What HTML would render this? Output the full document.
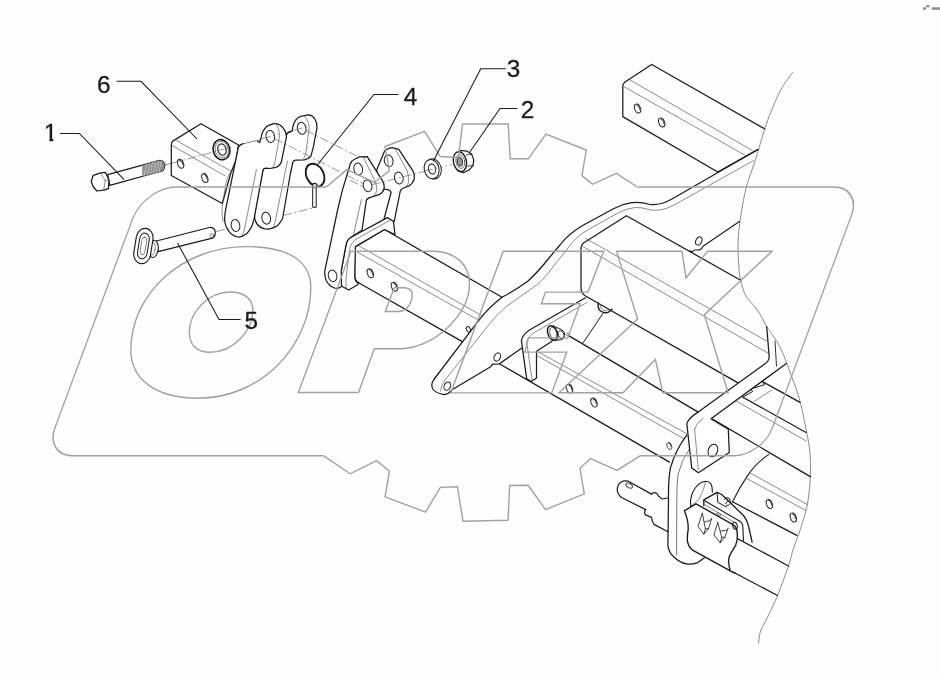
<!DOCTYPE html>
<html><head><meta charset="utf-8">
<style>
html,body{margin:0;padding:0;background:#fefefe;}
body{width:940px;height:674px;overflow:hidden;font-family:"Liberation Sans",sans-serif;}
svg{display:block;will-change:transform}
.k{fill:none;stroke:#1b1b1b;stroke-width:1.25;stroke-linecap:round;stroke-linejoin:round}
.kf{fill:#fefefe;stroke:#1b1b1b;stroke-width:1.25;stroke-linecap:round;stroke-linejoin:round}
.t{fill:none;stroke:#444;stroke-width:.62;stroke-linecap:round;stroke-linejoin:round}
.tf{fill:#fefefe;stroke:#3a3a3a;stroke-width:.7}
.d{fill:none;stroke:#555;stroke-width:.6;stroke-dasharray:9 2.5 2 2.5}
.l{fill:none;stroke:#1b1b1b;stroke-width:1.05}
.w{fill:none;stroke:#a0a2a0;stroke-width:1.4;stroke-linejoin:miter}
.n{font-family:"Liberation Sans",sans-serif;font-size:24.3px;fill:#1b1b1b;stroke:#1b1b1b;stroke-width:.3;text-anchor:middle}
</style></head><body>
<svg width="940" height="674" viewBox="0 0 940 674">


<defs><g id="hole"><ellipse rx="2.9" ry="4.65" style="fill:#fefefe;stroke:#222;stroke-width:.9"/><path d="M0.2,-3.8 A2.1,3.8 0 0 1 1.7,2.3" style="stroke:#4a4a4a;stroke-width:1.4;fill:none"/></g><pattern id="dz" width="8" height="8" patternUnits="userSpaceOnUse"><g fill="#f5faf6"><rect x="3" y="0" width="1" height="1"/><rect x="6" y="1" width="1" height="1"/><rect x="1" y="2" width="1" height="1"/><rect x="4" y="3" width="1" height="1"/><rect x="7" y="4" width="1" height="1"/><rect x="2" y="5" width="1" height="1"/><rect x="5" y="6" width="1" height="1"/><rect x="0" y="7" width="1" height="1"/></g></pattern></defs>
<rect width="940" height="674" fill="url(#dz)"/>
<!-- ============ DRAWING ============ -->
<g id="drawing">
<!-- bolt 1 -->
<g id="bolt">
 <path class="d" d="M165,165 L302,128.3"/>
 <path class="kf" d="M107.7,174.6 L159.8,160.4 Q165.2,161.5 164.6,166 Q164.3,169.8 161.9,171 L109.8,185.4 Z"/>
 <path d="M142.2,165.3 L159.8,160.5 Q165,161.6 164.5,166 Q164.2,169.8 161.9,170.9 L142.2,176.3 Z" fill="#8e8e8e" stroke="none"/>
 <path class="t" d="M144,176 L146.5,164.3 M147,175.2 L149.5,163.5 M150,174.4 L152.5,162.7 M153,173.6 L155.5,161.9 M156,172.8 L158.5,161.1 M159,172 L161.3,161" style="stroke:#ddd"/>
 <path class="kf" d="M91.2,181.2 L93.3,175.3 L100.7,172.9 L105.5,172.4 L108.9,180.1 L108.5,188.6 L103.9,190.2 L97,191 L93.3,187 Z"/>
 <path class="t" d="M100.7,173.4 L105.3,180.6 L103.6,189.9 M105.3,180.6 L108.7,180"/>
</g>

<!-- block 6 -->
<g id="block6">
 <path class="kf" d="M171.3,145 Q171.3,142 173.5,140.6 L201,123.8 L238.5,145 L236,160 L231,172.5 L222.3,203.5 L171.3,175.5 Z"/>
 <path class="t" d="M171.5,145.2 L225,175.8 M175.5,140 L231.7,171.5"/>
 <use href="#hole" transform="translate(180.6,163.8) rotate(-22)"/>
 <use href="#hole" transform="translate(204.8,178) rotate(-22)"/>
 <g transform="rotate(-14 221.5 149.7)">
  <ellipse class="kf" cx="221.5" cy="149.7" rx="8.3" ry="10.2" style="stroke-width:1.6"/>
  <ellipse class="t" cx="221.8" cy="149.7" rx="6.6" ry="8.4"/>
  <ellipse class="k" cx="222" cy="149.7" rx="4.2" ry="5.8" style="stroke-width:1.1"/>
 </g>
 <path class="d" d="M172,163.2 L232,147"/>
</g>

<!-- link B (rear) -->
<g id="linkB">
 <path class="kf" d="M288,133 L292.4,131 Q292.6,124.5 295.8,119.8 Q298,117.2 301.5,116.2 L308.7,114.9 Q313.5,115.5 315.4,120.1 Q317.3,124 316.9,128.3 L313.2,147.7 L311,155.9 Q309,158.8 304.3,159.8 L296.8,160.2 Q293.8,159.8 292.9,162 L290.3,174 L282.6,218.5 Q278.8,225.6 274.5,227.4 Q270,229.6 265.5,229 Q260,227.8 257.3,224.5 Q254.5,221 254.4,215.5 L262.6,171 L281,140 Z"/>
 <path class="t" d="M303.8,115.6 Q308.2,119 309.2,127.5 L305.9,153.3 Q305.2,156 303.6,158.6 M287.5,161 L274.9,223 Q274,226 272.5,228.2"/>
 <ellipse class="t" cx="301.7" cy="128.3" rx="4.3" ry="6" transform="rotate(-12 301.7 128.3)" style="stroke:#222;stroke-width:1"/>
 <ellipse class="t" cx="266.2" cy="218.2" rx="4.3" ry="6" transform="rotate(-12 266.2 218.2)" style="stroke:#222;stroke-width:1"/>
</g>
<!-- link A (front) -->
<g id="linkA">
 <path class="t" d="M232.7,170 Q227.5,175 226.2,182.3 L222.1,206.8 Q221.6,215 223,221.5"/>
 <path d="M238.4,147.2 Q240,144.3 243.3,143.6 L257.3,140.2 L259.6,142.4 Q261,139 261.8,134.3 Q264.2,127.6 268.5,125.4 L273,123.8 Q279.5,123 283.4,128.3 Q286.6,132 286.4,137.2 L281.2,162.6 Q279.5,166.4 276,167.3 L270,168.5 L265.5,168.2 Q263.4,168.3 263,170.2 L254.1,218.6 L252.3,225 Q249.5,231.5 245.8,234.3 Q242,237.3 237.6,237 Q232.5,236 228.7,231.2 Q225,226 224.6,219.5 Q224.6,214 226.2,206.8 Z" fill="#fefefe" stroke="none"/>
 <path class="k" d="M243.3,143.6 Q240,144.3 238.4,147.2 L226.2,206.8 Q224.6,214 224.6,219.5 Q225,226 228.7,231.2 Q232.5,236 237.6,237 Q242,237.3 245.8,234.3 Q249.5,231.5 252.3,225 L254.1,218.6 L263,170.2 Q263.4,168.3 265.5,168.2 L270,168.5 L276,167.3 Q279.5,166.4 281.2,162.6 L286.4,137.2 Q286.6,132 283.4,128.3 Q279.5,123 273,123.8 L268.5,125.4 Q264.2,127.6 261.8,134.3 Q261,139 259.6,142.4 L257.8,141.5"/>
 <path class="t" d="M243.3,143.6 L246,143.6 L247.5,142.3 L250,142.6 L252,141.2 L254.5,141.4 L257.8,140.2 L257.8,141.5"/>
 <path class="t" d="M287.3,133.2 Q287.6,131.2 289.8,131.4 Q291.8,131.8 292.3,130.2" style="stroke:#222;stroke-width:.8"/>
 <path class="t" d="M276,123.8 Q279.5,128 279.7,135.7 L275.2,161 Q274.3,165 272.5,168 M256.4,169.5 L244.3,230 Q243.6,233 242,236"/>
 <ellipse class="t" cx="270.3" cy="136.5" rx="4.3" ry="6" transform="rotate(-12 270.3 136.5)" style="stroke:#222;stroke-width:1"/>
 <ellipse class="t" cx="235.5" cy="225.5" rx="4.3" ry="6" transform="rotate(-12 235.5 225.5)" style="stroke:#222;stroke-width:1"/>
 <path class="d" d="M262,138.8 L279,134.2 M294,130.3 L309,126.3"/>
</g>

<!-- ring pin 4 -->
<g id="pin4">
 <path class="d" d="M283.4,215.5 L314.5,207.5"/>
 <path class="k" d="M312.7,187 V207.3 H316.2 V187" style="stroke-width:1"/>
 <ellipse class="k" cx="315.1" cy="175.1" rx="8.6" ry="12" transform="rotate(-27 315.1 175.1)" style="stroke-width:1.9"/>
 <circle class="kf" cx="314.7" cy="185.6" r="2.2" style="stroke-width:1.1"/>
</g>
<!-- pin 5 -->
<g id="pin5">
 <path class="d" d="M216,231.6 L231,227.8"/>
 <path class="kf" d="M156.3,241 L209.4,227.5 Q214.8,227.3 215.3,232.2 Q215.3,236.8 212.3,238.2 L158.2,251.7 Z"/>
 <ellipse class="t" cx="211.7" cy="235.6" rx="1.6" ry="2.2" transform="rotate(-15 211.7 235.6)"/>
 <g transform="rotate(8 153.4 249.5)">
  <ellipse class="kf" cx="153.4" cy="249" rx="4.7" ry="8.6" style="stroke-width:1.1"/>
  <ellipse class="t" cx="152.6" cy="249.2" rx="2.6" ry="6"/>
 </g>
 <g transform="rotate(9 143.4 246)">
  <rect class="kf" x="135" y="228.2" width="16.8" height="35.6" rx="8.4" ry="10" style="stroke-width:1.15"/>
  <rect class="k" x="138.6" y="233" width="9.6" height="26" rx="4.8" ry="6" style="stroke-width:1"/>
  <rect class="t" x="141" y="237" width="4.8" height="18" rx="2.4" ry="3.5"/>
 </g>
</g>

<g id="upperTube">
 <path class="k" d="M758.2,149.4 L717.7,172 L622.8,116.6 L622.8,86 Q622.8,83.5 625,82 L651.7,64.5 L765,129"/>
 <path class="t" d="M629,79.4 L752.2,150.4 M624,86.7 L745.1,155.2"/>
 <use href="#hole" transform="translate(637.6,108.5) rotate(-22)"/>
 <use href="#hole" transform="translate(661.7,122.4) rotate(-22)"/>
</g>
<!-- break curve -->
<path class="t" d="M792.5,72.5 C790.5,75.4 784.2,83.5 780.7,89.9 C777.2,96.4 773.9,104.6 771.2,111.2 C768.5,117.8 767.1,121.6 764.5,129.5 C761.9,137.4 758.8,149.1 755.8,158.7 C752.8,168.3 748.8,177.8 746.3,187.2 C743.8,196.6 742.4,206.4 741.0,215.0 C739.6,223.6 738.6,231.2 738.2,239.0 C737.8,246.8 738.1,255.2 738.5,262.0 C738.9,268.8 739.4,274.3 740.6,280.0 C741.9,285.7 743.2,291.0 746.0,296.0 C748.8,301.0 753.9,304.9 757.4,310.0 C760.9,315.1 762.9,320.4 766.7,326.6 C770.5,332.8 776.1,339.1 780.2,347.4 C784.4,355.7 788.3,367.4 791.6,376.4 C794.9,385.4 797.6,392.4 800.0,401.3 C802.4,410.2 804.6,421.5 806.2,430.0 C807.9,438.5 809.2,445.0 809.9,452.5 C810.6,460.0 810.8,466.6 810.4,475.0 C810.0,483.4 809.2,494.3 807.6,503.2 C806.0,512.1 803.0,521.1 800.6,528.6 C798.2,536.1 795.5,542.1 793.5,548.3 C791.5,554.5 791.2,558.1 788.5,566.0 C785.8,573.9 781.0,586.9 777.5,595.5 C774.0,604.1 770.2,611.6 767.4,617.5 C764.6,623.4 762.1,626.8 760.6,631.0 C759.1,635.2 758.9,641.0 758.6,643.0"/>
<!-- middle big tube -->
<g id="midTube">
 <path class="k" d="M740.6,280.2 L626.4,215.7 L583.5,243 Q581,245 581,248 L581,288 Q581,293 585.5,296 L737.6,382.6"/>
 <path class="t" d="M585.8,238.5 L766.7,341.1 M582.3,246.2 L768.8,353.6"/>
 <path class="k" d="M690,250.8 L692.5,252 Q694,249 697,250 Q701,250.5 703,246.2 L739.4,221.5" style="stroke-width:1.1"/>
 <ellipse class="k" cx="698.8" cy="241" rx="2.9" ry="4.3" transform="rotate(25 698.8 241)" style="stroke-width:1"/>
</g>

<!-- square tube with flange -->
<g id="tube">
 <!-- tube body -->
 <path d="M384.5,229.5 L502,297.3 L478,321.4 L461.5,340.7 L359,283 Q354.7,280.5 354.7,276.5 L354.7,250 L355.4,246.6 Z" fill="#fefefe"/>
 <path class="k" d="M502,297.3 L384.5,229.5 L355.4,246.6 L354.7,250 L354.7,276.5 Q354.7,280.5 359,283 L462.3,341.6"/>
 <path class="t" d="M357.7,245.2 L481.7,315.6 M355.4,251 L478,319.8"/>
 <use href="#hole" transform="translate(370.3,273.3) rotate(-22)"/>
 <use href="#hole" transform="translate(394.4,286.7) rotate(-22)"/>
 <ellipse class="k" cx="468.4" cy="329.3" rx="1.9" ry="3" transform="rotate(-25 468.4 329.3)" style="stroke-width:1"/>
</g>
<!-- link D (rear, on tube) -->
<g id="linkD">
 <path class="kf" d="M376.8,169.4 L384.5,151.2 Q386.5,148.6 392.1,147.7 L398.8,149.3 L413.2,171.3 Q414.8,175 414.2,178.9 Q412.8,183.6 409.4,185.6 L403.5,188 Q400.8,189 400.2,191.5 L394.2,221.4 L384.1,218.6 L391.1,192.5 Q390,189 384,189.5 L378,186 Z"/>
 <path class="t" d="M395,148.6 L407.5,171.3 Q408.8,177 408.4,182.8 Q407.6,185.6 406,186.9"/>
 <ellipse class="t" cx="388.7" cy="160.8" rx="4.3" ry="6" transform="rotate(-14 388.7 160.8)" style="stroke:#222;stroke-width:1"/>
 <ellipse class="t" cx="398.8" cy="178" rx="4.3" ry="6" transform="rotate(-14 398.8 178)" style="stroke:#222;stroke-width:1"/>
</g>
<!-- flange plate -->
<g id="flange">
 <path class="kf" d="M387.4,217.6 L393.4,221.3 L395,234.5 L384.5,229.5 L355.4,246.6 L354.7,278 Q355.5,281.5 358.5,283.5 L357.7,284.7 L348.7,290 L341.3,286 L341.3,270.4 L345.7,246.6 Q346.5,240 350.2,237.7 Z"/>
 <path class="t" d="M389.3,220.6 L354.7,240 Q350.3,243.5 349.5,249.6 L345.9,280 L346.3,288.6"/>
</g>
<!-- link C (front, on tube) -->
<g id="linkC">
 <path class="kf" d="M350.3,164 Q351.5,160.5 355,159 L359.6,156.9 L367.2,156.7 L382.6,180.9 Q384.6,184.5 384.1,188.5 Q382.8,192.8 379.7,194.3 L371.1,197.1 Q367.3,198 366.3,200.6 L362,230.2 L350.2,237.7 Q346.5,240 345.7,246.6 L341.3,270.4 L341.5,286.5 Q338.5,289 334.5,288 Q329,286 326.2,280.5 Q324.3,276 324.9,270.4 L337.6,210 L342.3,190.4 Z"/>
 <path class="t" d="M363.4,157.3 L374.9,180.9 Q377.3,186 376.8,190.4 Q375.8,194 373.6,196.2 M361.4,199.5 L353.4,235"/>
 <ellipse class="t" cx="358.2" cy="169" rx="4.3" ry="6" transform="rotate(-14 358.2 169)" style="stroke:#222;stroke-width:1"/>
 <ellipse class="t" cx="367.6" cy="185.8" rx="4.3" ry="6" transform="rotate(-14 367.6 185.8)" style="stroke:#222;stroke-width:1"/>
 <ellipse class="t" cx="332.6" cy="275.8" rx="4.3" ry="5.8" transform="rotate(-14 332.6 275.8)" style="stroke:#222;stroke-width:1"/>
</g>
<!-- centre lines -->
<g id="cl">
 <path class="d" d="M274.5,138.6 L364,184"/>
 <path class="d" d="M306,130.5 L357,156"/>
 <path class="d" d="M349.8,180.2 L363,186.8"/>
 <path class="d" d="M372,184.6 L452,164.5"/>
</g>
<!-- washer 3 -->
<g id="washer">
 <g transform="rotate(-14 432.2 169)">
  <ellipse class="kf" cx="433.2" cy="169.2" rx="8" ry="10.2" style="stroke-width:1"/>
  <ellipse class="kf" cx="431.6" cy="169" rx="7.4" ry="9.7" style="stroke-width:1"/>
  <ellipse class="k" cx="432" cy="169" rx="3.6" ry="5" style="stroke-width:1"/>
  <path class="t" d="M430.2,172.8 A3,4.4 0 0 1 433.6,164.6"/>
 </g>
 <path class="d" d="M424,171.2 L437,168"/>
</g>
<!-- nut 2 -->
<g id="nut">
 <path class="kf" d="M459.7,150.4 L467.1,151.2 L471.6,154.1 L473.8,160.1 L473.1,165.3 L469.4,169.8 L463.4,172.8 L458,171 L454,160 Z" style="stroke-width:1.2"/>
 <path class="t" d="M466.2,155 L471.6,154.2 M467.2,166.3 L472.9,165.2 M463.4,172.6 L462.4,170.6" style="stroke:#222;stroke-width:.8"/>
 <ellipse class="kf" cx="459.9" cy="161.6" rx="6.5" ry="10" transform="rotate(-12 459.9 161.6)" style="stroke-width:1.4"/>
 <ellipse class="t" cx="460.3" cy="161.6" rx="4.3" ry="6.8" transform="rotate(-12 460.3 161.6)" style="stroke:#222"/>
 <ellipse cx="459.9" cy="161.7" rx="2.6" ry="4.5" transform="rotate(-12 459.9 161.7)" fill="#9a9a9a" stroke="#2a2a2a" stroke-width=".9"/>
</g>

<!-- big curved frame bracket -->
<g id="bracket">
 <path class="k" d="M757,150 L672,199 Q661,205.5 650,204.5 Q640,201.5 630.4,202.8 Q622,204 614,208.5 L583.5,225 Q568,234 560,245 L549,258 Q538,272 528,281 Q516,290 502,297.3 Q488,308 478,321.4 L433.5,380 Q430.5,385 432.8,389 Q436,393.5 444.4,394.6 Q448.5,394 452,389.8 L490.7,366.7 L492.5,364.2 L499.4,363.8 L521.5,348.3"/>
 <path class="t" d="M753.5,160.6 L674,205 Q662,211.5 651,210 Q641,207 635,207.5 Q626,208.5 617,213.5 L588,229.7 Q574,238 566.6,250 L556,263 Q547,275.5 539.6,282.8 Q524,294 506.8,306 Q494,317 485,329.5 L445,380 Q441,386 440.5,391"/>
 <ellipse class="k" cx="447.3" cy="386.2" rx="3.1" ry="4.3" transform="rotate(25 447.3 386.2)" style="stroke-width:1"/>
 <ellipse class="k" cx="497.3" cy="357" rx="3.1" ry="4.3" transform="rotate(25 497.3 357)" style="stroke-width:1"/>
</g>
<!-- L bracket + nipples + long tube -->
<g id="lower">
 <!-- long tube edges -->
 <path class="k" d="M499.4,363.8 L669.5,462.1"/>
 <path class="k" d="M568.6,335.6 L698.2,412.1 M711.6,418.6 L810.3,476.6"/>
 <path class="t" d="M538.1,351.8 L687.3,434 M538.1,356.3 L683.7,438.6"/>
 <use href="#hole" transform="translate(569.5,388.6) rotate(-22)"/>
 <use href="#hole" transform="translate(594,402.6) rotate(-22)"/>
 <use href="#hole" transform="translate(669.3,446) rotate(-22) scale(.8)"/>
 <!-- L bracket -->
 <path class="k" d="M585.5,297.8 L531.2,329 Q522.5,334 521.4,340.6 L526.7,378.9 L531.2,381.5 L536.5,378 L536.5,351.3 L551.7,341.5"/>
 <path class="t" d="M587.3,302.3 L535.6,331.7 Q528,336 526.7,341.5 L532,379.8"/>
 <!-- nipple 1 -->
 <g>
  <path class="kf" d="M553.5,326 L561.6,329.6 Q565.2,331.8 564.7,335.6 Q564,339 560.6,339.8 L552.5,340.6 Z" style="stroke-width:1"/>
  <ellipse class="kf" cx="552.4" cy="333" rx="4.5" ry="7.6" transform="rotate(-20 552.4 333)" style="stroke-width:1.5"/>
  <ellipse class="t" cx="553.8" cy="333.3" rx="3.7" ry="6.4" transform="rotate(-20 553.8 333.3)" style="stroke:#222"/>
  <ellipse class="t" cx="561.2" cy="334.8" rx="2.7" ry="4.4" transform="rotate(-20 561.2 334.8)" style="stroke:#222;stroke-width:.8"/>
  <path class="t" d="M556.5,328 L557.8,339.8" style="stroke:#333"/>
  <circle class="t" cx="567.7" cy="334.3" r="1.2" style="stroke:#222"/>
 </g>
 <!-- nipple 2 -->
 <g>
  <path class="k" d="M598.5,303 Q597,308 600.5,311 Q604,313.5 608,312.3 Q611,311 612,309.2" style="stroke-width:1.4"/>
  <path class="t" d="M600.5,304.5 Q600,308.5 603,310.5 Q606,311.5 608.5,310"/>
  <path class="k" d="M603.3,313 L582.8,343.2" style="stroke-width:1"/>
 </g>
</g>

<!-- far-right tube lines behind the U bar -->
<g id="rightLines">
 <path class="k" d="M762.5,381.6 L800,402.4" />
 <path class="k" d="M742.8,397.2 L806.1,432.5"/>
 <path class="t" d="M736.6,401.3 L806,440.8"/>
 <path class="t" d="M754.2,401.3 L771.9,390"/>
 <path class="k" d="M762.5,381.6 L764.6,384.7 L751,388.9 L752.5,391.5 L742.8,397.2" style="stroke-width:1"/>
 <!-- lower right tube (two holes) -->
 <path class="t" d="M749.5,472.7 L807.4,504.5 M746.6,478.5 L805.5,510.3"/>
 <path class="k" d="M733.4,502.3 L796.8,535.4"/>
 <use href="#hole" transform="translate(769.4,504) rotate(-22)"/>
 <use href="#hole" transform="translate(793.3,517.5) rotate(-22)"/>
</g>
<!-- sector plate -->
<g id="sector">
 <path class="k" d="M686.8,435.1 Q676,449 670.4,467.9 Q668.2,480 668.5,500 L667.9,545.2 Q668.5,552 673.7,556.8 Q680,563 687.2,564.2 Q693,564.4 697.8,562.6 L704.5,557.8"/>
 <path class="t" d="M689.7,448.6 Q681.5,460 678.2,473.7 Q676.6,485 676.8,500 L676.6,554.9" style="stroke:#777;stroke-width:1"/>
 <path class="k" d="M768.8,454.4 Q756,463 747.6,475.6 Q739,488 732.2,502.6" style="stroke-width:1.1"/>
 <!-- big hole -->
 <path class="k" d="M690.6,506.2 Q689.8,499.5 692.1,493.7 Q694.5,487.8 698.4,484.3 Q701.8,481.5 705.4,481.2 Q709,481.2 710.8,483.6 Q712.6,487 712.4,492.1" style="stroke-width:1.1"/>
 <path class="t" d="M690.6,506.2 Q695,503.5 698.4,499.9 Q703,493 705.4,482"/>
</g>
<!-- U bar -->
<g id="ubar">
 <path class="kf" d="M766.7,326.6 L769.2,356.7 Q769,361.5 764.6,364 L698.2,412.1 Q689,417.5 686.8,423.5 L691.7,467.9 L698.4,472.7 L729.3,452.4 L728.3,429.3 L711,418.7 L786.4,363.5 L776.5,358 L775,341.1 L771.5,335 Z" style="stroke:none"/>
 <path class="k" d="M766.7,326.6 L769.2,356.7 Q769,361.5 764.6,364 L698.2,412.1 Q689,417.5 686.8,423.5 L691.7,467.9 L698.4,472.7 L729.3,452.4 L728.3,429.3 L711,418.7 L786.4,363.5"/>
 <path class="k" d="M775,341.1 L776.5,366" style="stroke-width:.9"/>
 <path class="t" d="M694.6,429.3 L698.4,469.8 M694.6,429.3 Q696,423 703,418.5"/>
 <ellipse class="k" cx="712.9" cy="450.5" rx="4.6" ry="6.5" transform="rotate(22 712.9 450.5)" style="stroke-width:1"/>
</g>
<!-- rod -->
<g id="rod">
 <path class="k" d="M651.5,494.1 L628.3,481.2 Q622,479.5 618.6,484.5 Q616,489.5 618.5,494 Q620,497 622.5,498 L645.7,509.6"/>
 <ellipse class="t" cx="629.2" cy="485.6" rx="3.6" ry="2.1" transform="rotate(28 629.2 485.6)" style="stroke-width:.9"/>
 <path class="k" d="M651.5,494.1 Q653.5,491.3 656.8,493.5 Q659,497.5 662,499 L668,498"/>
 <path class="k" d="M645.7,509.6 Q643.2,512.5 646,515.2 L651.5,517.3 Q651.8,521.5 654,524.4 L668,531.7"/>
</g>
<!-- clamp -->
<g id="clamp">
 <!-- back plate -->
 <path class="k" d="M703.8,505.5 L703.8,499.9 L717.1,492.4 L721.7,494.5 L743.5,515.5 Q746.8,519.5 748.2,524.8 L752.1,542" style="stroke-width:1.3"/>
 <path class="k" d="M704.6,500.7 L738.1,520.2 Q742.3,522 742.8,526 L743.5,540.4" style="stroke-width:1.1"/>
 <path class="t" d="M704.6,504.6 L733.4,521.7"/>
 <path class="k" d="M717.1,492.4 L717.8,502.3 L726.4,507" style="stroke-width:1"/>
 <path class="k" d="M724.2,499.5 Q725.8,496.5 728.8,498 Q731.2,500 730.3,503.6 Q729,506.2 726.6,505.4 M725.3,503.8 L729.8,499.4" style="stroke-width:1"/>
 <!-- cylinder -->
 <path class="k" d="M736.5,538.1 L788.5,566 M733.5,572.3 L777.5,595.5"/>
 <!-- front plate -->
 <path class="kf" d="M684.3,510.8 L696,503.8 L733.4,524.8 Q736.8,527.5 737.2,532 L737.3,537.3 Q737.3,541.5 735.7,545.1 L731.1,552.9 Q728.2,557.5 728.7,562.2 Q729,567.5 730.3,570.8 Q732,572.6 735,573.1 L730.3,570.8 L692.1,549.8 Q688.5,546.5 687.5,542 Q687,535.5 688.2,529.5 Q688.5,520 684.3,510.8 Z" style="stroke-width:1.35"/>
 <ellipse class="k" cx="735" cy="525.8" rx="2.2" ry="3.6" transform="rotate(-15 735 525.8)" style="stroke-width:1"/>
 <ellipse class="t" cx="718.6" cy="514" rx="2.2" ry="1" transform="rotate(28 718.6 514)"/>
 <!-- louvers -->
 <path class="t" d="M702.3,513.2 L698,526.4 L703.8,534.2 L708.5,528.7 L711.6,518.6 M702.3,513.2 L705.4,528.7 L703.8,534.2 M705.4,528.7 L708.5,528.7 M704.6,522 L709.8,520.6 L711.6,518.6" style="stroke:#222;stroke-width:.85"/>
 <path class="t" d="M717.8,522.5 L713.9,535 L720.2,542.8 L724.8,537.3 L728,528.7 M717.8,522.5 L721.7,537.3 L720.2,542.8 M721.7,537.3 L724.8,537.3 M720.5,531 L726,530.4 L728,528.7" style="stroke:#222;stroke-width:.85"/>
</g>


</g>

<!-- ============ WATERMARK ============ -->
<g id="wm" class="w">
 <g transform="translate(0,187) skewX(-20.4) translate(0,-186.8)">
  <path d="M326.4,186.8 H177 A32,32 0 0 0 144.5,218.8 V427.6 A28,28 0 0 0 172.5,455.6 H423.4"/>
  <path d="M638,186.8 H834 A28,28 0 0 1 862,214.8 V427.6 A28,28 0 0 1 834,455.6 H740.4"/>
 </g>
 <!-- gear top -->
 <path d="M326.4,187 L346.8,169.6 L374.5,182.5 L389.4,170.6 L385,146.5 L424.6,131.3 L440.3,156.5 L458.4,157.5 L462.5,124 L508.2,124 L510.2,158.8 L528.2,158.8 L546,134.2 L586.2,150 L582,175.6 L592.6,184.3 L616.3,173.4 L637.4,187"/>
 <!-- gear bottom -->
 <path d="M323.4,455.6 L350.2,473.8 L376.6,460.6 L389.4,471.3 L385.1,496.8 L425.5,512.1 L440.4,487.4 L457.4,486.7 L463,521.2 L508,520.3 L509.7,485.5 L528.2,485.3 L545.5,509.6 L584.3,493.8 L580,468.3 L590.6,458.5 L617,470.4 L640.4,455.6"/>
 <!-- O -->
 <path d="M130.8,350.2 C130.8,293 183,246.6 246.2,246.6 C290,246.6 310.8,262 310.8,287.4 C310.8,345 262,398.2 198.1,398.2 C154,398.2 130.8,378 130.8,350.2 Z"/>
 <path d="M189.3,332.8 C189.3,311 209,292 230.2,292 C244,292 252.9,299 252.9,310.1 C252.9,331 233,352.3 210.1,352.3 C196,352.3 189.3,344 189.3,332.8 Z"/>
 <!-- P -->
 <path d="M351,251.3 H432 C455,251.3 469.5,264 469.5,284 C469.5,300 461,314 449.8,325.4 C438.5,337 420,348.7 400,348.7 H374.3 L358.5,392.5 H298.3 Z"/>
 <path d="M385.3,311.5 L394.3,287.7 H404 C410,287.7 413,291 412.1,296.6 C411,305 406,311.5 398,311.5 Z"/>
 <!-- E -->
 <path d="M503.2,251.3 H603.7 L588,292.1 H545.4 L541.3,303.7 H580.2 L567.7,337.9 H528.5 L524.9,352.1 H566.8 L551.7,392.9 H450.8 Z"/>
 <!-- X -->
 <path d="M616.5,251.3 H682 L686,278 L707.5,251.3 H772 L704.3,314.8 L728.2,392.7 H662.8 L655.4,359.5 L622.9,392.7 H559 L637.6,319 Z"/>
</g>

<!-- ============ LABELS ============ -->
<g id="leaders" class="l">
 <path d="M116.5,81.3 H141 L197,139"/>
 <path d="M60,133.4 H79.4 L124.1,179.6"/>
 <path d="M398.6,94.5 H374 L317.3,165"/>
 <path d="M505.8,68.7 H480.7 L433.4,161"/>
 <path d="M517.3,108.5 H500 L469,153.2"/>
 <path d="M240.6,319.4 H219 L177.5,243"/>
</g>
<g id="nums" class="n" opacity=".995">
 <text x="103.8" y="92.7">6</text>
 <text x="50.6" y="141.3">1</text>
 <text x="410.4" y="104.8">4</text>
 <text x="513.6" y="77.3">3</text>
 <text x="527.6" y="117.8">2</text>
 <text x="251.2" y="329">5</text>
</g>
<rect x="43" y="138.4" width="6.4" height="4.2" fill="#fefefe"/><rect x="53.3" y="138.4" width="5" height="4.2" fill="#fefefe"/>
<!-- tiny mark top right -->
<g fill="#8c8c8c"><rect x="923" y="7.3" width="3" height="2.5"/><rect x="926" y="5.2" width="3.5" height="2.1"/><rect x="931.7" y="7.3" width="8.3" height="2.5"/></g>
</svg>
</body></html>
